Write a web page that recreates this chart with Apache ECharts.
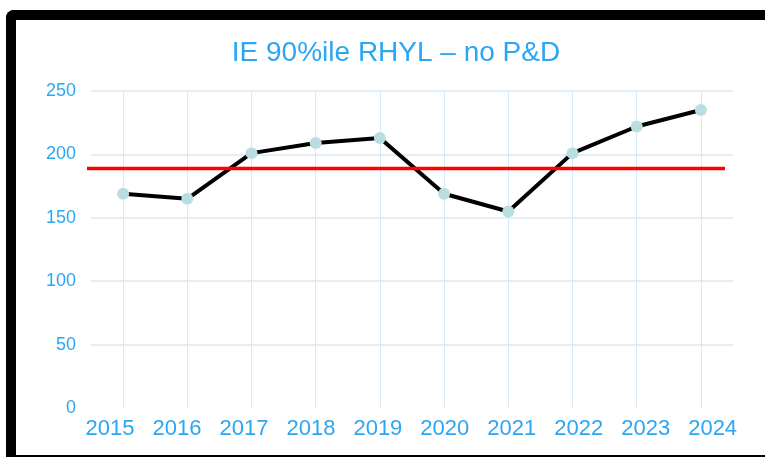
<!DOCTYPE html>
<html>
<head>
<meta charset="utf-8">
<script src="https://cdn.jsdelivr.net/npm/echarts@6/dist/echarts.min.js"></script>
<style>
html,body{margin:0;padding:0;background:#fff;overflow:hidden;}
#wrap{position:relative;width:765px;height:457px;overflow:hidden;background:#fff;}
#frame{position:absolute;left:6px;top:10px;width:820px;height:435px;border-top:10px solid #000;border-left:10px solid #000;border-bottom:2px solid #000;border-top-left-radius:8px;box-sizing:content-box;}
#chart{position:absolute;left:0;top:0;width:765px;height:457px;}
</style>
</head>
<body>
<div id="wrap">
<div id="frame"></div>
<div id="chart"></div>
</div>
<script>
const titleText = 'IE 90%ile RHYL – no P&D';
const years = ['2015','2016','2017','2018','2019','2020','2021','2022','2023','2024'];
const values = [169, 165, 201, 209, 213, 169, 155, 201, 222, 235];
const thresholdValue = 189;
const yTicks = { min: 0, max: 250, interval: 50 };

const blue = '#2aa6f2';
const gridColor = '#d8e9f6';
const font = 'Liberation Sans, Arial, sans-serif';

const chart = echarts.init(document.getElementById('chart'), null, { renderer: 'canvas' });
chart.setOption({
  backgroundColor: 'transparent',
  animation: false,
  title: {
    text: titleText,
    left: 391,
    textAlign: 'center',
    top: 34,
    textStyle: { color: blue, fontSize: 28, fontWeight: 'normal', fontFamily: font }
  },
  grid: [
    { left: 91, right: 32, top: 91, bottom: 49, containLabel: false },
    { left: 76.6, right: 18.9, top: 91, bottom: 49, containLabel: false },
    { left: 87, right: 40, top: 91, bottom: 49, containLabel: false }
  ],
  xAxis: [{
    type: 'category',
    gridIndex: 0,
    data: years,
    boundaryGap: true,
    axisLine: { show: false },
    axisTick: { show: false },
    axisLabel: { show: false },
    splitLine: { show: true, alignWithLabel: true, lineStyle: { color: gridColor, width: 1 } }
  }, {
    type: 'category',
    gridIndex: 1,
    data: years,
    boundaryGap: true,
    axisLine: { show: false },
    axisTick: { show: false },
    splitLine: { show: false },
    axisLabel: { color: blue, fontSize: 22, margin: 10, fontFamily: font }
  }, {
    type: 'category',
    gridIndex: 2,
    data: years,
    show: false
  }],
  yAxis: [{
    type: 'value',
    gridIndex: 0,
    min: yTicks.min, max: yTicks.max, interval: yTicks.interval,
    axisLine: { show: false },
    axisTick: { show: false },
    axisLabel: { color: blue, fontSize: 18, margin: 15, fontFamily: font },
    splitLine: { show: true, lineStyle: { color: ['transparent', gridColor, gridColor, gridColor, gridColor, gridColor], width: 1.5 } }
  }, {
    type: 'value',
    gridIndex: 1,
    min: yTicks.min, max: yTicks.max, interval: yTicks.interval,
    show: false
  }, {
    type: 'value',
    gridIndex: 2,
    min: yTicks.min, max: yTicks.max, interval: yTicks.interval,
    show: false
  }],
  series: [{
    type: 'line',
    name: 'threshold',
    xAxisIndex: 2,
    yAxisIndex: 2,
    data: values,
    showSymbol: false,
    lineStyle: { width: 0, opacity: 0 },
    silent: true,
    z: 2,
    markLine: {
      silent: true,
      symbol: ['none', 'none'],
      label: { show: false },
      lineStyle: { color: '#ff0000', width: 3.3, type: 'solid', opacity: 1 },
      emphasis: { disabled: true },
      data: [{ yAxis: thresholdValue }]
    }
  }, {
    type: 'line',
    xAxisIndex: 0,
    yAxisIndex: 0,
    data: values,
    lineStyle: { color: '#000', width: 4 },
    symbol: 'circle',
    symbolSize: 12,
    itemStyle: { color: '#b9dde1', borderWidth: 0 },
    z: 3
  }]
});
</script>
</body>
</html>
